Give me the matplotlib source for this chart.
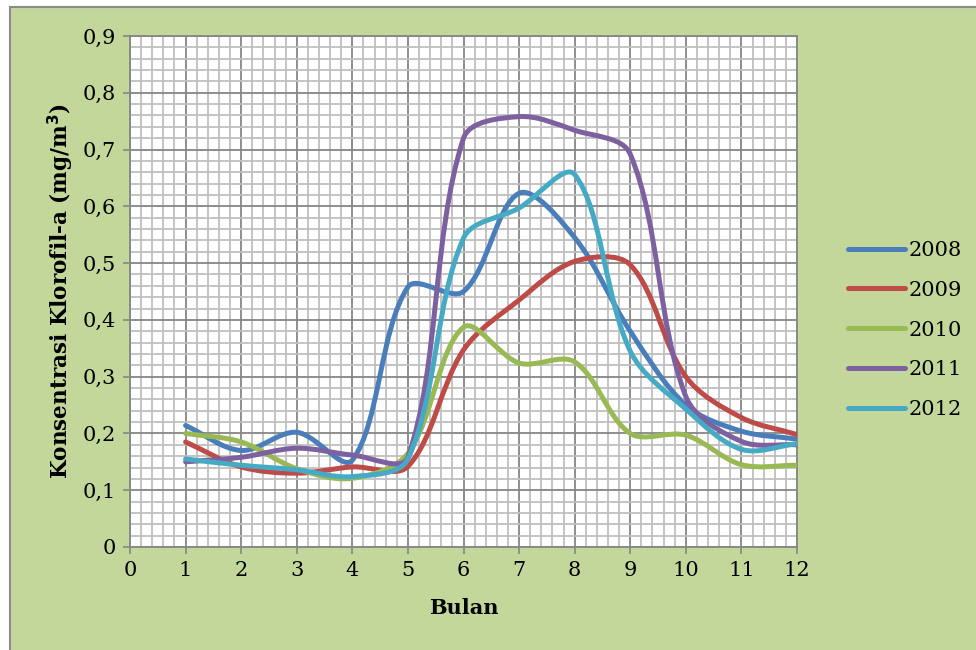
import numpy as np
import matplotlib
matplotlib.use('Agg')
import matplotlib.pyplot as plt
from matplotlib.path import Path
from matplotlib.patches import PathPatch, Rectangle
from matplotlib.lines import Line2D
from matplotlib.ticker import MultipleLocator, FuncFormatter

# data (monthly chlorophyll-a, mg/m3)
bulan = [1, 2, 3, 4, 5, 6, 7, 8, 9, 10, 11, 12]
kl_2008 = [0.214, 0.170, 0.202, 0.153, 0.458, 0.450, 0.623, 0.545, 0.380, 0.250, 0.204, 0.190]
kl_2009 = [0.185, 0.141, 0.130, 0.141, 0.142, 0.347, 0.435, 0.503, 0.497, 0.300, 0.228, 0.198]
kl_2010 = [0.200, 0.185, 0.138, 0.121, 0.165, 0.387, 0.324, 0.326, 0.200, 0.197, 0.145, 0.144]
kl_2011 = [0.150, 0.158, 0.174, 0.162, 0.158, 0.720, 0.758, 0.734, 0.692, 0.265, 0.186, 0.180]
kl_2012 = [0.155, 0.144, 0.136, 0.124, 0.155, 0.544, 0.597, 0.656, 0.345, 0.243, 0.172, 0.182]

tahun = ['2008', '2009', '2010', '2011', '2012']
warna = ['#4A7EBB', '#BE4B48', '#98B954', '#7D60A0', '#46AAC5']

plt.rcParams['font.family'] = ['DejaVu Serif']

# axes box in pixels (976x650 figure)
AX_L, AX_R, AX_T, AX_B = 130, 797, 36, 547
XMAX, YMAX = 12, 0.9


def smooth_path(x, y):
    # excel-like smoothed line: bezier segments, tangents scaled by chord length
    sx = (AX_R - AX_L) / XMAX
    sy = (AX_B - AX_T) / YMAX
    pts = np.column_stack([np.asarray(x) * sx, np.asarray(y) * sy]).astype(float)
    n = len(pts)
    verts = [pts[0]]
    codes = [Path.MOVETO]
    for i in range(n - 1):
        p0 = pts[i - 1] if i > 0 else pts[i]
        p1 = pts[i]
        p2 = pts[i + 1]
        p3 = pts[i + 2] if i + 2 < n else pts[i + 1]
        d01 = np.hypot(*(p1 - p0))
        d12 = np.hypot(*(p2 - p1))
        d23 = np.hypot(*(p3 - p2))
        c1 = p1 + (p2 - p0) * d12 / (d01 + d12) / 3
        c2 = p2 - (p3 - p1) * d12 / (d12 + d23) / 3
        verts += [c1, c2, p2]
        codes += [Path.CURVE4] * 3
    verts = np.array(verts) / [sx, sy]
    return Path(verts, codes)


fig = plt.figure(figsize=(9.76, 6.5), dpi=100)
fig.patch.set_facecolor('white')
fig.patches.append(Rectangle((10 / 976, -0.01), 1.0, 1 - 7 / 650 + 0.01,
                             transform=fig.transFigure, facecolor='#C4D79B',
                             edgecolor='#8C8C8C', linewidth=1.5, zorder=-10))

ax = fig.add_axes([AX_L / 976, 1 - AX_B / 650, (AX_R - AX_L) / 976, (AX_B - AX_T) / 650])
ax.set_facecolor('white')

series = [kl_2008, kl_2009, kl_2010, kl_2011, kl_2012]
for vals, c in zip(series, warna):
    ax.add_patch(PathPatch(smooth_path(bulan, vals), facecolor='none', edgecolor=c,
                           linewidth=3.6, capstyle='round', joinstyle='round', zorder=3))

ax.set_xlim(0, XMAX)
ax.set_ylim(0, YMAX)
ax.xaxis.set_major_locator(MultipleLocator(1))
ax.xaxis.set_minor_locator(MultipleLocator(0.2))
ax.yaxis.set_major_locator(MultipleLocator(0.1))
ax.yaxis.set_minor_locator(MultipleLocator(0.02))
ax.yaxis.set_major_formatter(FuncFormatter(lambda v, p: '0' if abs(v) < 1e-9 else f'{v:.1f}'.replace('.', ',')))

ax.set_axisbelow(True)
ax.grid(which='minor', color='#BFBFBF', linewidth=1.3)
ax.grid(which='major', color='#868686', linewidth=1.3)
ax.tick_params(which='minor', length=0)
ax.tick_params(which='major', length=5, width=1.2, color='#868686', labelsize=15, pad=5)
for s in ax.spines.values():
    s.set_color('#868686')
    s.set_linewidth(1.3)

ax.set_xlabel('Bulan', fontsize=15, fontweight='bold')
ax.set_ylabel('Konsentrasi Klorofil-a (mg/m$^\\mathbf{3}$)', fontsize=15.5, fontweight='bold')
ax.xaxis.set_label_coords(0.5, -(598 - AX_B) / (AX_B - AX_T))
ax.yaxis.set_label_coords(-(AX_L - 76) / (AX_R - AX_L), 0.5)

handles = [Line2D([], [], color=c, linewidth=3.6, solid_capstyle='round') for c in warna]
fig.legend(handles, tahun, loc='center left', bbox_to_anchor=(848 / 976, 1 - 330 / 650),
           frameon=False, fontsize=15, handlelength=2.75, handletextpad=0.15,
           labelspacing=1.0, borderpad=0, borderaxespad=0)

fig.savefig('out.png', dpi=100)
